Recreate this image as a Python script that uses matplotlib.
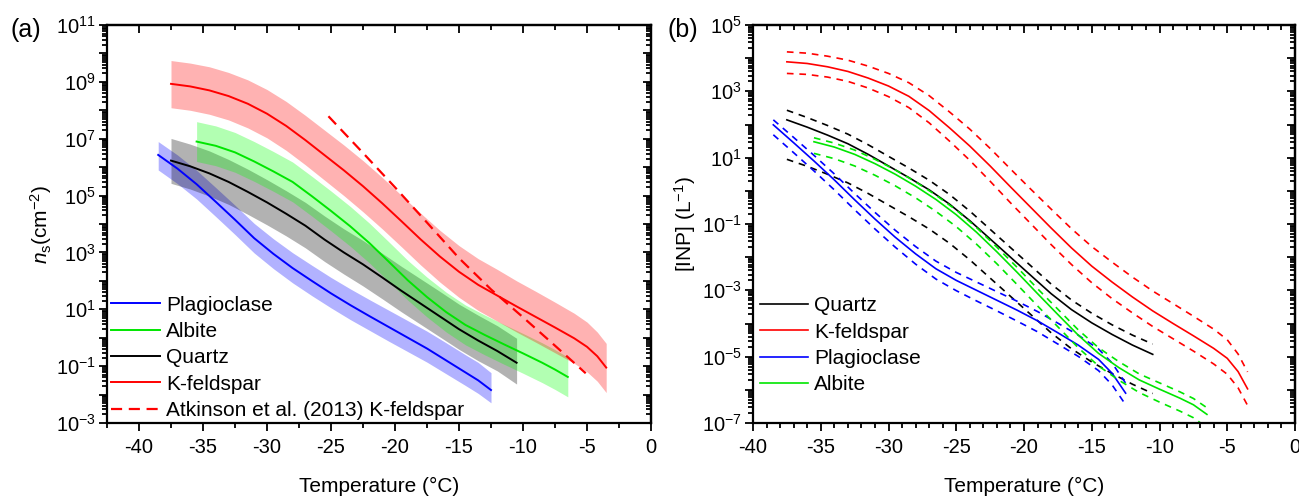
import matplotlib
matplotlib.use('Agg')
import matplotlib.pyplot as plt
import numpy as np
from matplotlib.ticker import FixedLocator, MultipleLocator, LogLocator, FuncFormatter, NullFormatter

plt.rcParams['font.family'] = ['Liberation Sans', 'DejaVu Sans']
plt.rcParams['mathtext.fontset'] = 'custom'
plt.rcParams['mathtext.rm'] = 'Liberation Sans'
plt.rcParams['mathtext.it'] = 'Liberation Sans:italic'
plt.rcParams['mathtext.bf'] = 'Liberation Sans:bold'
plt.rcParams['axes.unicode_minus'] = False

# ---- panel (a): n_s (cm^-2), values are log10 ----
plag_a_T = [-38.5, -37, -35.5, -34, -32.5, -31, -29.5, -28, -26.5, -25, -23.5, -22, -20.5, -19, -17.5,
            -16, -14.5, -13.5, -12.5]
plag_a = [6.43, 5.95, 5.4, 4.78, 4.15, 3.5, 2.95, 2.45, 2.0, 1.56, 1.15, 0.76, 0.38, 0.0, -0.38,
          -0.8, -1.22, -1.5, -1.84]
plag_a_hi = [6.9, 6.43, 5.89, 5.28, 4.66, 4.02, 3.48, 2.99, 2.55, 2.12, 1.72, 1.34, 0.97, 0.6, 0.23,
             -0.18, -0.6, -0.87, -1.23]
plag_a_lo = [5.9, 5.42, 4.88, 4.26, 3.63, 2.98, 2.43, 1.93, 1.48, 1.05, 0.64, 0.26, -0.12, -0.49, -0.86,
             -1.27, -1.68, -1.96, -2.29]

qtz_a_T = [-37.5, -36, -34.5, -33, -31.5, -30, -28.5, -27, -25.5, -24, -22.5, -21, -19.5, -18, -16.5,
           -15, -13.5, -12, -10.5]
qtz_a = [6.23, 6.03, 5.78, 5.48, 5.13, 4.76, 4.36, 3.94, 3.45, 3.0, 2.58, 2.12, 1.65, 1.2, 0.75,
         0.3, -0.1, -0.47, -0.88]
qtz_a_hi = [7.01, 6.81, 6.57, 6.27, 5.93, 5.56, 5.17, 4.76, 4.28, 3.83, 3.42, 2.97, 2.51, 2.07, 1.63,
            1.18, 0.79, 0.42, -0.02]
qtz_a_lo = [5.43, 5.23, 4.98, 4.69, 4.34, 3.97, 3.58, 3.16, 2.68, 2.24, 1.82, 1.37, 0.91, 0.47, 0.03,
            -0.41, -0.81, -1.17, -1.63]

alb_a_T = [-35.5, -34, -32.5, -31, -29.5, -28, -26.5, -25, -23.5, -22, -20.5, -19, -17.5, -16, -14.5,
           -13, -11.5, -10, -8.5, -7.5, -6.5]
alb_a = [6.9, 6.75, 6.52, 6.2, 5.85, 5.48, 4.98, 4.46, 3.92, 3.33, 2.68, 2.02, 1.43, 0.9, 0.45,
         0.1, -0.23, -0.55, -0.88, -1.12, -1.38]
alb_a_hi = [7.6, 7.45, 7.22, 6.9, 6.55, 6.18, 5.68, 5.16, 4.62, 4.03, 3.38, 2.72, 2.13, 1.6, 1.15,
            0.8, 0.47, 0.15, -0.18, -0.42, -0.68]
alb_a_lo = [6.2, 6.05, 5.82, 5.5, 5.15, 4.78, 4.28, 3.76, 3.22, 2.63, 1.98, 1.32, 0.73, 0.2, -0.25,
            -0.6, -0.93, -1.25, -1.58, -1.82, -2.08]

kfs_a_T = [-37.5, -36, -34.5, -33, -31.5, -30, -28.5, -27, -25.5, -24, -22.5, -21, -19.5, -18, -16.5,
           -15, -13.5, -12, -10.5, -9, -7.5, -6, -5, -4.2, -3.5]
kfs_a = [8.93, 8.84, 8.7, 8.5, 8.23, 7.88, 7.45, 6.95, 6.42, 5.89, 5.33, 4.73, 4.1, 3.46, 2.86,
         2.32, 1.86, 1.48, 1.1, 0.73, 0.36, -0.02, -0.32, -0.65, -1.05]
kfs_a_hi = [9.75, 9.66, 9.53, 9.33, 9.07, 8.73, 8.31, 7.82, 7.3, 6.78, 6.23, 5.64, 5.01, 4.38, 3.78,
            3.24, 2.78, 2.4, 2.0, 1.63, 1.25, 0.86, 0.55, 0.2, -0.2]
kfs_a_lo = [8.09, 8.0, 7.86, 7.66, 7.38, 7.03, 6.59, 6.08, 5.54, 5.0, 4.43, 3.83, 3.2, 2.56, 1.96,
            1.42, 0.96, 0.58, 0.2, -0.16, -0.53, -0.9, -1.2, -1.53, -1.93]

atk_T = [-25.2, -22.5, -20, -17.5, -15, -12.5, -10, -7.5, -5.1]
atk = [7.79, 6.5, 5.29, 4.05, 2.8, 1.7, 0.72, -0.28, -1.25]

# ---- panel (b): [INP] (L^-1), values are log10 ----
qtz_b_T = [-37.5, -36, -34.5, -33, -31.5, -30, -28.5, -27, -25.5, -24, -22.5, -21, -19.5, -18, -16.5,
           -15, -13.5, -12, -10.5]
qtz_b = [2.14, 1.92, 1.68, 1.42, 1.1, 0.75, 0.4, 0.03, -0.4, -0.9, -1.45, -2.0, -2.55, -3.1, -3.58,
         -3.98, -4.33, -4.65, -4.93]
qtz_b_hi = [2.43, 2.21, 1.97, 1.71, 1.39, 1.04, 0.69, 0.32, -0.11, -0.61, -1.16, -1.71, -2.26, -2.81,
            -3.29, -3.69, -4.04, -4.35, -4.62]
qtz_b_lo = [0.95, 0.74, 0.5, 0.24, -0.08, -0.43, -0.78, -1.15, -1.58, -2.08, -2.63, -3.18, -3.73,
            -4.28, -4.76, -5.16, -5.51, -5.83, -6.11]

kfs_b_T = [-37.5, -36, -34.5, -33, -31.5, -30, -28.5, -27, -25.5, -24, -22.5, -21, -19.5, -18, -16.5,
           -15, -13.5, -12, -10.5, -9, -7.5, -6, -5, -4.2, -3.5]
kfs_b = [3.89, 3.84, 3.74, 3.6, 3.4, 3.16, 2.85, 2.42, 1.9, 1.35, 0.75, 0.12, -0.5, -1.12, -1.72,
         -2.27, -2.75, -3.2, -3.62, -4.0, -4.37, -4.75, -5.05, -5.45, -5.97]
kfs_b_hi = [4.19, 4.15, 4.06, 3.94, 3.76, 3.54, 3.26, 2.87, 2.38, 1.86, 1.28, 0.66, 0.05, -0.55, -1.14,
            -1.68, -2.15, -2.6, -3.02, -3.4, -3.78, -4.17, -4.49, -4.92, -5.46]
kfs_b_lo = [3.54, 3.51, 3.43, 3.3, 3.1, 2.84, 2.51, 2.05, 1.5, 0.92, 0.29, -0.36, -0.99, -1.62, -2.22,
            -2.77, -3.25, -3.68, -4.09, -4.46, -4.83, -5.22, -5.53, -5.94, -6.47]

plag_b_T = [-38.5, -37, -35.5, -34, -32.5, -31, -29.5, -28, -26.5, -25, -23.5, -22, -20.5, -19, -17.5,
            -16, -14.5, -13.5, -12.5]
plag_b = [1.99, 1.45, 0.9, 0.33, -0.27, -0.85, -1.4, -1.9, -2.35, -2.7, -3.0, -3.3, -3.6, -3.92, -4.28,
          -4.65, -5.08, -5.5, -6.1]
plag_b_hi = [2.14, 1.61, 1.07, 0.51, -0.08, -0.65, -1.19, -1.68, -2.12, -2.46, -2.75, -3.04, -3.33,
             -3.64, -3.99, -4.35, -4.77, -5.19, -5.8]
plag_b_lo = [1.69, 1.15, 0.6, 0.03, -0.57, -1.15, -1.7, -2.21, -2.66, -3.01, -3.32, -3.62, -3.93,
             -4.25, -4.62, -4.99, -5.42, -5.85, -6.45]

alb_b_T = [-35.5, -34, -32.5, -31, -29.5, -28, -26.5, -25, -23.5, -22, -20.5, -19, -17.5, -16, -14.5,
           -13, -11.5, -10, -8.5, -7.5, -6.5]
alb_b = [1.48, 1.32, 1.1, 0.82, 0.5, 0.14, -0.26, -0.72, -1.25, -1.84, -2.46, -3.1, -3.73, -4.35,
         -4.9, -5.33, -5.7, -5.98, -6.25, -6.45, -6.74]
alb_b_hi = [1.6, 1.44, 1.23, 0.95, 0.63, 0.27, -0.13, -0.58, -1.11, -1.7, -2.31, -2.95, -3.57, -4.19,
            -4.73, -5.15, -5.52, -5.79, -6.06, -6.26, -6.54]
alb_b_lo = [1.13, 0.97, 0.75, 0.47, 0.15, -0.21, -0.62, -1.08, -1.61, -2.2, -2.83, -3.47, -4.1,
            -4.73, -5.28, -5.71, -6.08, -6.37, -6.64, -6.84, -7.14]

BLUE, GREEN, BLACK, RED = '#0000ff', '#00e600', '#000000', '#ff0000'
TICK_FS = 14.5
LAB_FS = 15


def dec(v):
    return 10.0 ** np.asarray(v)


def exp_label(v, pos):
    e = int(round(np.log10(v)))
    return r'$10^{%d}$' % e if e % 2 else ''


def style(ax, xmin, xminor, ymin, ymax):
    ax.set_xlim(xmin, 0)
    ax.set_yscale('log')
    ax.set_ylim(10.0 ** ymin, 10.0 ** ymax)
    majors = [10.0 ** e for e in range(ymin, ymax + 1)]
    ax.yaxis.set_major_locator(FixedLocator(majors))
    ax.yaxis.set_major_formatter(FuncFormatter(exp_label))
    ax.yaxis.set_minor_locator(LogLocator(base=10, subs=np.arange(2, 10), numticks=200))
    ax.yaxis.set_minor_formatter(NullFormatter())
    ax.xaxis.set_major_locator(MultipleLocator(5))
    ax.xaxis.set_minor_locator(MultipleLocator(xminor))
    ax.tick_params(which='both', direction='out', labelsize=TICK_FS, width=1.3)
    ax.tick_params(axis='x', pad=5)
    ax.tick_params(axis='y', pad=2)
    ax.tick_params(which='major', length=6)
    ax.tick_params(which='minor', length=3.5)
    for s in ax.spines.values():
        s.set_linewidth(1.6)
    top = ax.secondary_xaxis('top')
    top.xaxis.set_major_locator(MultipleLocator(5))
    top.xaxis.set_minor_locator(MultipleLocator(xminor))
    top.tick_params(which='both', direction='in', labeltop=False, width=1.3)
    top.tick_params(which='major', length=6)
    top.tick_params(which='minor', length=3.5)
    top.spines['top'].set_linewidth(1.6)
    right = ax.secondary_yaxis('right')
    right.yaxis.set_major_locator(FixedLocator(majors))
    right.yaxis.set_minor_locator(LogLocator(base=10, subs=np.arange(2, 10), numticks=200))
    right.yaxis.set_major_formatter(NullFormatter())
    right.yaxis.set_minor_formatter(NullFormatter())
    right.tick_params(which='both', direction='in', labelright=False, width=1.3)
    right.tick_params(which='major', length=6)
    right.tick_params(which='minor', length=3.5)
    right.spines['right'].set_linewidth(1.6)
    ax.set_xlabel('Temperature (°C)', fontsize=LAB_FS, labelpad=14)


fig = plt.figure(figsize=(12.99, 4.96), dpi=100)
axa = fig.add_axes([107 / 1299, 1 - 423 / 496, 544 / 1299, 398 / 496])
axb = fig.add_axes([753 / 1299, 1 - 423 / 496, 542 / 1299, 398 / 496])

# panel (a)
for T, hi, lo, c in [(plag_a_T, plag_a_hi, plag_a_lo, BLUE), (qtz_a_T, qtz_a_hi, qtz_a_lo, BLACK),
                     (alb_a_T, alb_a_hi, alb_a_lo, '#00ff00'), (kfs_a_T, kfs_a_hi, kfs_a_lo, RED)]:
    axa.fill_between(T, dec(lo), dec(hi), color=c, alpha=0.3, lw=0)
la = []
la += axa.plot(plag_a_T, dec(plag_a), color=BLUE, lw=1.4, label='Plagioclase')
la += axa.plot(alb_a_T, dec(alb_a), color=GREEN, lw=1.4, label='Albite')
la += axa.plot(qtz_a_T, dec(qtz_a), color=BLACK, lw=1.4, label='Quartz')
la += axa.plot(kfs_a_T, dec(kfs_a), color=RED, lw=1.4, label='K-feldspar')
la += axa.plot(atk_T, dec(atk), color=RED, lw=1.6, ls=(0, (5, 3)), label='Atkinson et al. (2013) K-feldspar')
style(axa, -42.5, 2.5, -3, 11)
axa.set_ylabel(r'$n_\mathrm{s}$(cm$^{-2}$)', fontsize=LAB_FS, labelpad=1)
axa.legend(handles=la, loc='upper left', bbox_to_anchor=(0.008, 0.32), frameon=False, fontsize=LAB_FS,
           handlelength=2.35, handletextpad=0.28, labelspacing=0.35, borderpad=0, borderaxespad=0)

# panel (b)
lb = []
for T, v, hi, lo, c, name in [(qtz_b_T, qtz_b, qtz_b_hi, qtz_b_lo, BLACK, 'Quartz'),
                              (kfs_b_T, kfs_b, kfs_b_hi, kfs_b_lo, RED, 'K-feldspar'),
                              (plag_b_T, plag_b, plag_b_hi, plag_b_lo, BLUE, 'Plagioclase'),
                              (alb_b_T, alb_b, alb_b_hi, alb_b_lo, GREEN, 'Albite')]:
    lb += axb.plot(T, dec(v), color=c, lw=1.2, label=name)
    axb.plot(T, dec(hi), color=c, lw=1.2, ls=(0, (4, 3.5)))
    axb.plot(T, dec(lo), color=c, lw=1.2, ls=(0, (4, 3.5)))
style(axb, -40, 1, -7, 5)
axb.set_ylabel(r'[INP] (L$^{-1}$)', fontsize=LAB_FS, labelpad=3)
axb.legend(handles=lb, loc='upper left', bbox_to_anchor=(0.012, 0.318), frameon=False, fontsize=LAB_FS,
           handlelength=2.35, handletextpad=0.28, labelspacing=0.35, borderpad=0, borderaxespad=0)

fig.text(0.008, 0.94, '(a)', fontsize=18, va='center')
fig.text(0.514, 0.94, '(b)', fontsize=18, va='center')

fig.savefig('out.png', dpi=100)
